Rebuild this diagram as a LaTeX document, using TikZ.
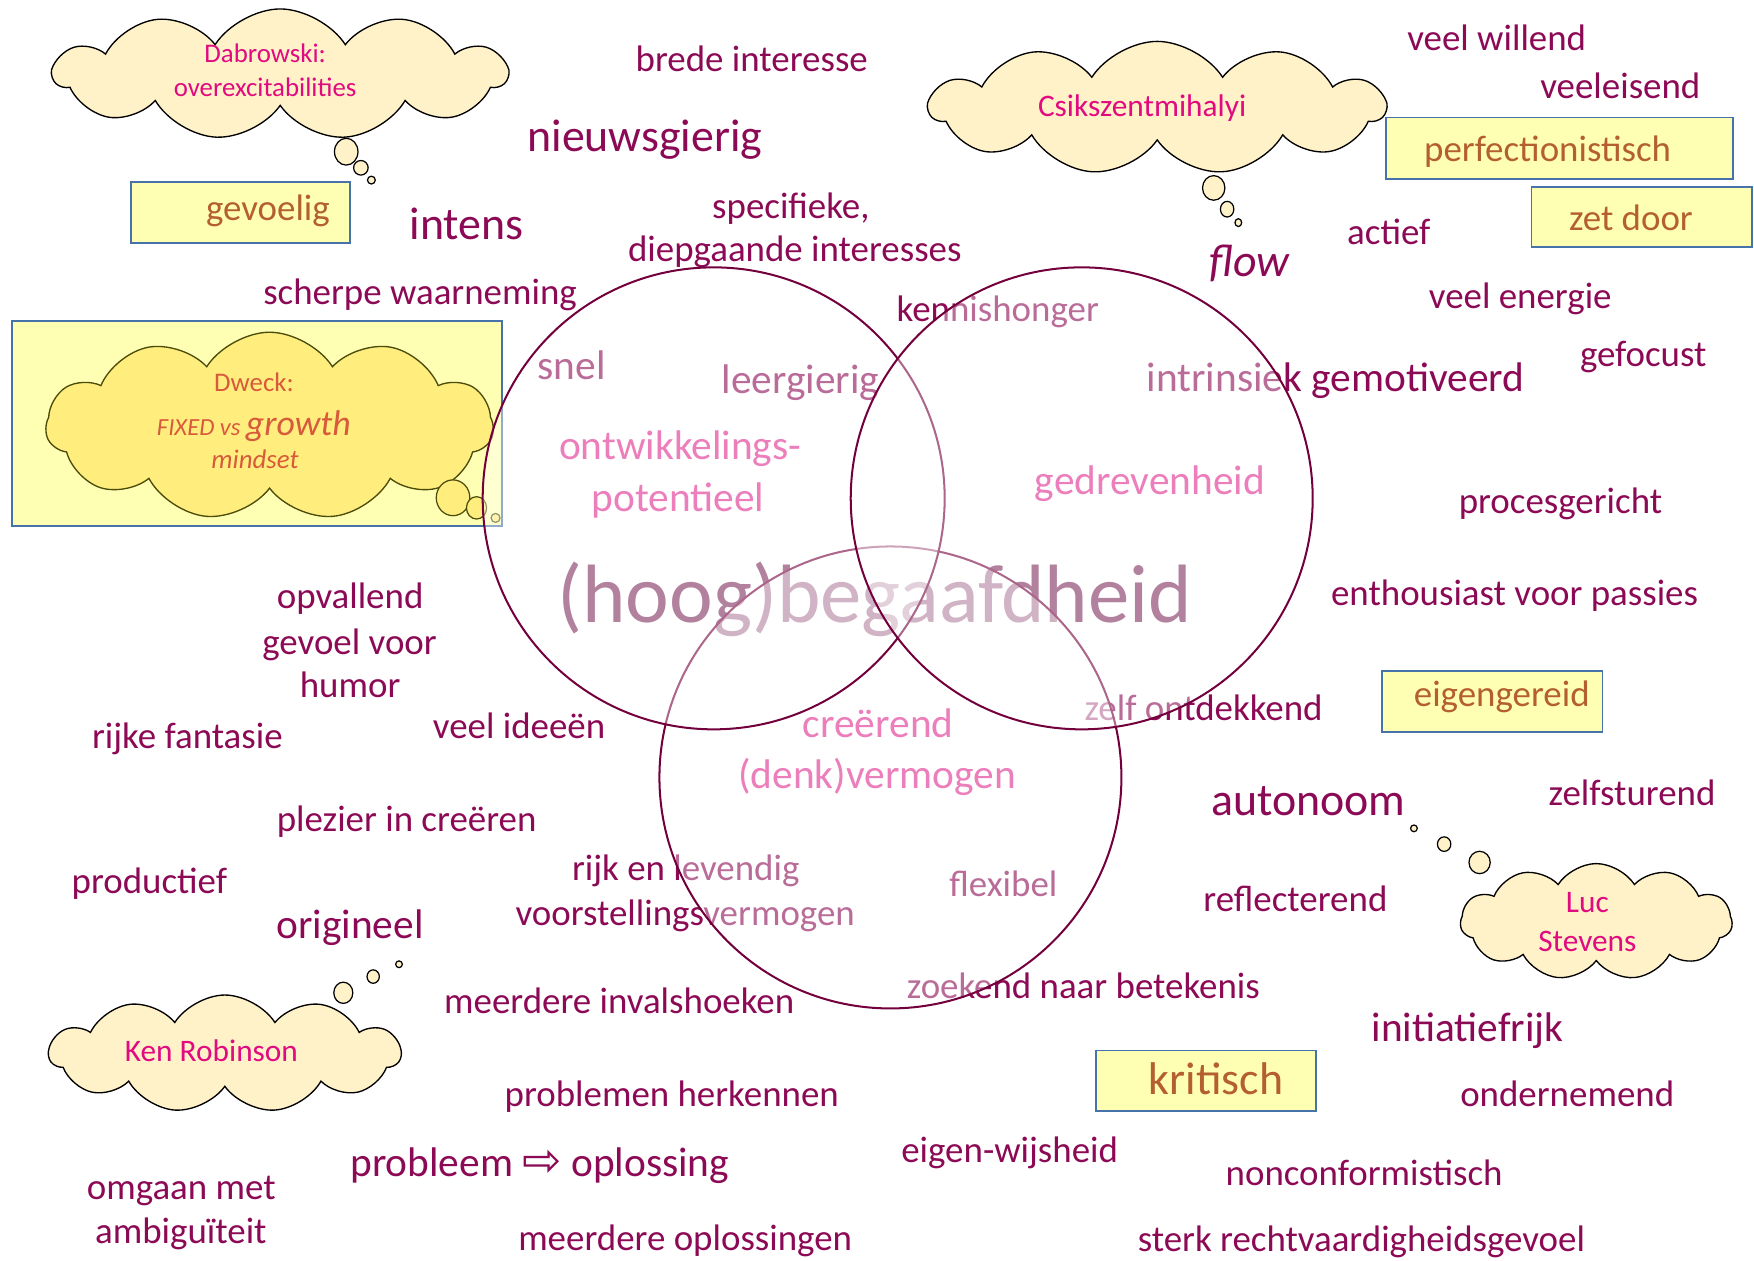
\documentclass[tikz,border=0pt]{standalone}
\usepackage{fontspec}
\setmainfont{Carlito}
\newfontfamily\arrowfont{DejaVu Sans}
\usetikzlibrary{shapes.symbols,shapes.geometric}
\definecolor{mainc}{RGB}{140,10,85}
\definecolor{bigc}{RGB}{128,45,92}
\definecolor{pinkc}{RGB}{222,40,142}
\definecolor{boxtxt}{RGB}{180,95,50}
\definecolor{boxfill}{RGB}{255,255,180}
\definecolor{boxline}{RGB}{70,115,170}
\definecolor{cloudfill}{RGB}{255,241,200}
\definecolor{cloudtxt}{RGB}{225,10,128}
\definecolor{dweckfill}{RGB}{255,238,125}
\definecolor{dweckline}{RGB}{75,75,10}
\definecolor{dwecktxt}{RGB}{215,90,60}
\definecolor{circline}{RGB}{115,0,60}
\newcommand\fsz[1]{\fontsize{#1}{#1}\selectfont}
\tikzset{
  txt/.style={anchor=base, inner sep=0pt, outer sep=0pt, text=mainc, font=\fsz{33}},
  bigt/.style={font=\fsz{41}},
  midt/.style={font=\fsz{37}},
  pinkt/.style={text=pinkc},
  ybox/.style={rectangle, draw=boxline, line width=1.6pt, fill=boxfill, inner sep=0pt},
  btxt/.style={anchor=base, inner sep=0pt, text=boxtxt, font=\fsz{33}},
  cloudshape/.style={cloud, cloud puffs=11, cloud puff arc=115, cloud ignores aspect, draw=black, line width=1.2pt, fill=cloudfill, inner sep=0pt},
  bubble/.style={ellipse, draw=black, line width=1.1pt, fill=cloudfill, inner sep=0pt},
  ctxt/.style={anchor=base, inner sep=0pt, text=cloudtxt, font=\fsz{28}},
  dtxt/.style={anchor=base, inner sep=0pt, text=dwecktxt, font=\fsz{24}\itshape},
  venn/.style={circle, minimum size=413pt, inner sep=0pt, draw=circline, line width=1.8pt, fill=white, fill opacity=0.4, draw opacity=1}
}
\begin{document}
\begin{tikzpicture}[x=1pt,y=-1pt]
\useasboundingbox (0,0) rectangle (1568,1126.4);
% ---------- boxes ----------
\node[ybox, minimum width=196pt, minimum height=54pt] (bgev) at (215,190) {};
\node[ybox, minimum width=310pt, minimum height=55pt] (bperf) at (1394,132.5) {};
\node[ybox, minimum width=197pt, minimum height=54pt] (bzet) at (1467.5,194) {};
\node[ybox, minimum width=197pt, minimum height=54.5pt] (beig) at (1334,627.2) {};
\node[ybox, minimum width=196.5pt, minimum height=54pt] (bkrit) at (1078,966) {};
\node[ybox, minimum width=438pt, minimum height=183pt] (bdweck) at (230,378.5) {};
\node[btxt] (tgev) at (239.5,197) {gevoelig};
\node[btxt] (tperf) at (1383.5,144) {perfectionistisch};
\node[btxt] (tzet) at (1458,206) {zet door};
\node[btxt] (teig) at (1342.5,632) {eigengereid};
\node[btxt, font=\fsz{41}] (tkrit) at (1087,978) {kritisch};
% ---------- clouds ----------
\node[cloudshape, minimum width=405pt, minimum height=117pt] (cdab) at (250.5,66.5) {};
\node[cloudshape, minimum width=407pt, minimum height=119pt] (ccsik) at (1034.5,96.5) {};
\node[cloudshape, draw=dweckline, fill=dweckfill, minimum width=400pt, minimum height=168pt] (cdweck) at (241,381) {};
\node[cloudshape, minimum width=243pt, minimum height=104pt] (cluc) at (1427,824) {};
\node[cloudshape, minimum width=314pt, minimum height=105pt] (cken) at (201,942) {};
% bubbles
\node[bubble, minimum width=21pt, minimum height=24pt] (bd1) at (309.5,135.6) {};
\node[bubble, minimum width=13pt, minimum height=13pt] (bd2) at (322.6,150) {};
\node[bubble, minimum width=7pt, minimum height=7pt] (bd3) at (332,161) {};
\node[bubble, minimum width=20pt, minimum height=22pt] (bc1) at (1085,168) {};
\node[bubble, minimum width=12pt, minimum height=14pt] (bc2) at (1097,187) {};
\node[bubble, minimum width=6pt, minimum height=7pt] (bc3) at (1107,199) {};
\node[bubble, draw=dweckline, fill=dweckfill, minimum width=30pt, minimum height=32pt] (bw1) at (405,445) {};
\node[bubble, draw=dweckline, fill=dweckfill, minimum width=18pt, minimum height=20pt] (bw2) at (426,454) {};
\node[bubble, draw=dweckline, fill=dweckfill, minimum width=8pt, minimum height=8pt] (bw3) at (443,463) {};
\node[bubble, minimum width=19pt, minimum height=20pt] (bl1) at (1322.7,771) {};
\node[bubble, minimum width=12pt, minimum height=13pt] (bl2) at (1291,754.6) {};
\node[bubble, minimum width=6pt, minimum height=6pt] (bl3) at (1264,740.5) {};
\node[bubble, minimum width=17pt, minimum height=19pt] (bk1) at (306.9,887.5) {};
\node[bubble, minimum width=11pt, minimum height=12pt] (bk2) at (333.6,873) {};
\node[bubble, minimum width=6pt, minimum height=6pt] (bk3) at (356.7,862) {};
% cloud texts
\node[ctxt, font=\fsz{24}] (tdab1) at (237,56) {Dabrowski:};
\node[ctxt, font=\fsz{24}] (tdab2) at (237,86) {overexcitabilities};
\node[ctxt] (tcsik) at (1021,104) {Csikszentmihalyi};
\node[ctxt] (tluc1) at (1419,816) {Luc};
\node[ctxt] (tluc2) at (1419,851) {Stevens};
\node[ctxt] (tken) at (189,949) {Ken Robinson};
\node[dtxt, font=\fsz{24}] (tdw1) at (227,350) {Dweck:};
\node[dtxt] (tdw2) at (227,389) {{\fsz{22}\itshape FIXED vs }{\fsz{32}\itshape growth}};
\node[dtxt] (tdw3) at (228,419) {mindset};
% ---------- plain texts ----------
\node[txt] (t1) at (672,64) {brede interesse};
\node[txt, bigt] (t2) at (576.5,135.6) {nieuwsgierig};
\node[txt, bigt] (t3) at (417,214) {intens};
\node[txt] (t4a) at (707,195) {specifieke,};
\node[txt] (t4b) at (710.5,234) {diepgaande interesses};
\node[txt] (t5) at (375.5,272) {scherpe waarneming};
\node[txt] (t6) at (892,287.6) {kennishonger};
\node[txt, font=\fsz{41}\itshape] (t7) at (1117,247) {flow};
\node[txt] (t8) at (1241.5,219) {actief};
\node[txt] (t9) at (1338,45) {veel willend};
\node[txt] (t10) at (1448.5,88) {veeleisend};
\node[txt] (t11) at (1359,276) {veel energie};
\node[txt] (t12) at (1469,328) {gefocust};
\node[txt, midt] (t13) at (1194,350) {intrinsiek gemotiveerd};
\node[txt, midt] (t14) at (511,339) {snel};
\node[txt, midt] (t15) at (715.5,351.6) {leergierig};
\node[txt, midt, pinkt] (t16a) at (608,411) {ontwikkelings-};
\node[txt, midt, pinkt] (t16b) at (606,457.5) {potentieel};
\node[txt, midt, pinkt] (t17) at (1028,442.5) {gedrevenheid};
\node[txt] (t18) at (1395,459) {procesgericht};
\node[txt, font=\fsz{74}, text=bigc] (t19) at (782,556.7) {(hoog)begaafdheid};
\node[txt] (t20) at (1354,541) {enthousiast voor passies};
\node[txt] (t21a) at (313,543.8) {opvallend};
\node[txt] (t21b) at (312.5,584.7) {gevoel voor};
\node[txt] (t21c) at (313,623.7) {humor};
\node[txt] (t22) at (167.5,669) {rijke fantasie};
\node[txt] (t23) at (464,660) {veel ideeën};
\node[txt, midt, pinkt] (t24a) at (785,659) {creërend};
\node[txt, midt, pinkt] (t24b) at (784,705) {(denk)vermogen};
\node[txt] (t25) at (1076,644) {zelf ontdekkend};
\node[txt, bigt] (t27) at (1169.5,728.6) {autonoom};
\node[txt] (t28) at (1459,719.7) {zelfsturend};
\node[txt] (t29) at (363.5,743.5) {plezier in creëren};
\node[txt] (t30) at (133.5,798.6) {productief};
\node[txt] (t31a) at (613,787) {rijk en levendig};
\node[txt] (t31b) at (612.5,827) {voorstellingsvermogen};
\node[txt] (t32) at (897,801.6) {flexibel};
\node[txt] (t33) at (1158,815) {reflecterend};
\node[txt, midt] (t34) at (313,838.8) {origineel};
\node[txt] (t35) at (968.5,893) {zoekend naar betekenis};
\node[txt] (t36) at (553.5,906) {meerdere invalshoeken};
\node[txt, midt] (t37) at (1312,931) {initiatiefrijk};
\node[txt] (t39) at (1401,988.8) {ondernemend};
\node[txt] (t40) at (600.5,989.4) {problemen herkennen};
\node[txt] (t41) at (902.6,1039.4) {eigen-wijsheid};
\node[txt, midt] (t42) at (482.5,1052) {probleem {\arrowfont\fsz{42}⇨} oplossing};
\node[txt] (t43) at (1219.5,1060) {nonconformistisch};
\node[txt] (t44a) at (162,1072) {omgaan met};
\node[txt] (t44b) at (161.7,1112) {ambiguïteit};
\node[txt] (t45) at (612.5,1117.5) {meerdere oplossingen};
\node[txt] (t46) at (1217,1119) {sterk rechtvaardigheidsgevoel};
% ---------- venn circles ----------
\node[venn] (c3) at (796,695) {};
\node[venn] (c1) at (638,445.5) {};
\node[venn] (c2) at (967,445.5) {};
\end{tikzpicture}
\end{document}
